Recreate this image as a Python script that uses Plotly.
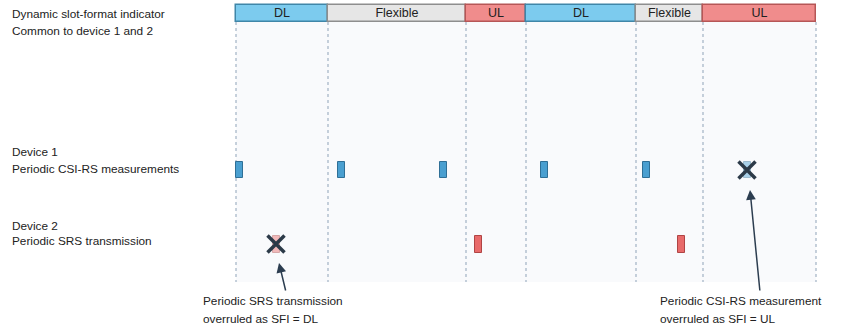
import plotly.graph_objects as go

# slot-format indicator (time in arbitrary units, 0 = start of first slot)
slot_edges = [0, 92, 230, 290, 400, 467, 580]
slot_types = ["DL", "Flexible", "UL", "DL", "Flexible", "UL"]

# device 1: periodic CSI-RS occasions, last one overruled
csi_rs_times = [3, 105, 207, 308, 410, 511]
csi_rs_overruled = [False, False, False, False, False, True]

# device 2: periodic SRS occasions, first one overruled
srs_times = [40, 242, 445]
srs_overruled = [True, False, False]

fill = {"DL": "#7ccbee", "Flexible": "#e6e6e6", "UL": "#f08c8c"}
edge = {"DL": "#3f86a8", "Flexible": "#8e8e8e", "UL": "#b65656"}
FONT = "Liberation Sans, Arial, sans-serif"

W, H = 845, 329
ROW_SFI, ROW_D1, ROW_D2 = 13.5, 170, 244

fig = go.Figure()

# SFI bar
starts = slot_edges[:-1]
widths = [b - a for a, b in zip(slot_edges[:-1], slot_edges[1:])]
mids = [a + w / 2 for a, w in zip(starts, widths)]
fig.add_trace(go.Bar(
    orientation="h", y=[ROW_SFI] * len(slot_types), x=widths, base=starts, width=17,
    marker=dict(color=[fill[t] for t in slot_types],
                line=dict(color=[edge[t] for t in slot_types], width=1.5)),
    hoverinfo="skip", showlegend=False,
))
fig.add_trace(go.Scatter(
    x=mids, y=[ROW_SFI + 0.5] * len(mids), mode="text", text=slot_types, cliponaxis=False,
    textfont=dict(family=FONT, size=12.5, color="#222222"),
    hoverinfo="skip", showlegend=False,
))

# CSI-RS marks
fig.add_trace(go.Bar(
    x=csi_rs_times, y=[16] * len(csi_rs_times), base=ROW_D1 - 8, width=7,
    marker=dict(color="#4a9fd0", line=dict(color="#2f6f96", width=1),
                opacity=[0.45 if o else 1 for o in csi_rs_overruled]),
    hoverinfo="skip", showlegend=False,
))
# SRS marks
fig.add_trace(go.Bar(
    x=srs_times, y=[17] * len(srs_times), base=ROW_D2 - 8.5, width=7,
    marker=dict(color="#e86a6a", line=dict(color="#b04444", width=1),
                opacity=[0.45 if o else 1 for o in srs_overruled]),
    hoverinfo="skip", showlegend=False,
))

# crosses on overruled occasions
fig.add_trace(go.Scatter(
    x=[t for t, o in zip(csi_rs_times, csi_rs_overruled) if o]
      + [t for t, o in zip(srs_times, srs_overruled) if o],
    y=[ROW_D1] * sum(csi_rs_overruled) + [ROW_D2] * sum(srs_overruled),
    mode="markers",
    marker=dict(symbol="x-thin", size=17, line=dict(color="#2c3a48", width=3.5)),
    hoverinfo="skip", showlegend=False,
))

shapes = [dict(type="rect", xref="x", yref="y", x0=slot_edges[0], x1=slot_edges[-1],
               y0=22, y1=282, fillcolor="#f9fafc", line=dict(width=0), layer="below")]
for e in slot_edges:
    shapes.append(dict(type="line", xref="x", yref="y", x0=e, x1=e, y0=22, y1=282,
                       line=dict(color="#8fa3b8", width=1, dash="dot"), layer="below"))

annotations = []
def label(x, y, text):
    annotations.append(dict(xref="paper", yref="y", x=(x - 2) / W, y=y, text=text,
                            showarrow=False, xanchor="left", yanchor="middle", align="left",
                            font=dict(family=FONT, size=11.8, color="#222222")))

label(12, 14, "Dynamic slot-format indicator")
label(12, 31, "Common to device 1 and 2")
label(12, 152, "Device 1")
label(12, 169, "Periodic CSI-RS measurements")
label(12, 226, "Device 2")
label(12, 241, "Periodic SRS transmission")
label(203, 301, "Periodic SRS transmission")
label(203, 319, "overruled as SFI = DL")
label(660, 301, "Periodic CSI-RS measurement")
label(660, 319, "overruled as SFI = UL")

# arrows pointing at the crosses
annotations.append(dict(xref="x", yref="y", x=srs_times[0] + 3, y=ROW_D2 + 19, ax=7, ay=29,
                        showarrow=True, arrowhead=2, arrowsize=1.3, arrowwidth=1.5,
                        arrowcolor="#2c3d50", text=""))
annotations.append(dict(xref="x", yref="y", x=csi_rs_times[-1] + 3, y=ROW_D1 + 20, ax=10, ay=102,
                        showarrow=True, arrowhead=2, arrowsize=1.3, arrowwidth=1.5,
                        arrowcolor="#2c3d50", text=""))

fig.update_layout(
    width=W, height=H, margin=dict(l=0, r=0, t=0, b=0),
    paper_bgcolor="white", plot_bgcolor="white",
    barmode="overlay", bargap=0, hovermode=False,
    xaxis=dict(range=[-236, 580 + 845 - 816], visible=False, fixedrange=True),
    yaxis=dict(range=[329, 0], visible=False, fixedrange=True),
    shapes=shapes, annotations=annotations,
)

# drop the browser's default body margin so the figure fills the window
fig.write_html("out.html", config={"displayModeBar": False},
               post_script="document.body.style.margin='0';")
